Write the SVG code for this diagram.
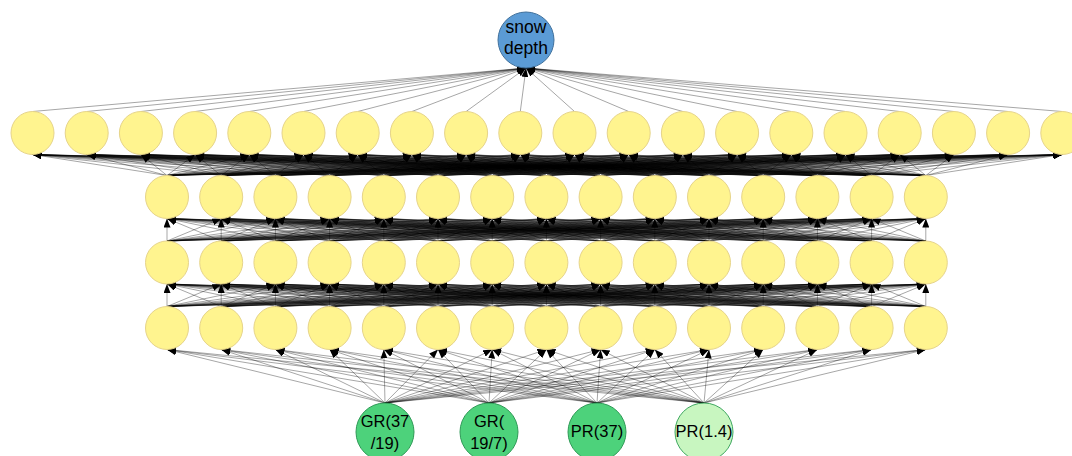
<svg xmlns="http://www.w3.org/2000/svg" xmlns:xlink="http://www.w3.org/1999/xlink" width="1072" height="456" viewBox="0 0 1072 456">
<style>
.edges path{fill:none;stroke:#000;stroke-opacity:.7;stroke-width:.5;marker-end:url(#ah)}
.y{fill:#FFF48F;stroke:#E6D48A;stroke-width:1}
.b{fill:#5B9BD5;stroke:#41719C;stroke-width:1}
.g{fill:#4DD27B;stroke:#2E9A56;stroke-width:1}
.lg{fill:#C8F6C0;stroke:#3FA860;stroke-width:1}
text{font-family:"Liberation Sans",Arial,sans-serif;fill:#000;text-anchor:middle}
.t1{font-size:17.5px}
.t2{font-size:16.5px}
</style>
<defs>
<marker id="ah" markerUnits="userSpaceOnUse" markerWidth="9" markerHeight="7" refX="9" refY="3.5" orient="auto"><path d="M0,0L9,3.5L0,7z" fill="#000"/></marker>
</defs>
<rect width="1072" height="456" fill="#fff"/>
<g id="connectors" class="edges">
<g id="e_l1_out">
<path d="M32.5 111.5L526 68"/><path d="M86.7 111.5L526 68"/><path d="M140.9 111.5L526 68"/><path d="M195.1 111.5L526 68"/><path d="M249.3 111.5L526 68"/><path d="M303.5 111.5L526 68"/><path d="M357.7 111.5L526 68"/><path d="M411.9 111.5L526 68"/><path d="M466.1 111.5L526 68"/><path d="M520.3 111.5L526 68"/><path d="M574.5 111.5L526 68"/><path d="M628.7 111.5L526 68"/><path d="M682.9 111.5L526 68"/><path d="M737.1 111.5L526 68"/><path d="M791.3 111.5L526 68"/><path d="M845.5 111.5L526 68"/><path d="M899.7 111.5L526 68"/><path d="M953.9 111.5L526 68"/><path d="M1008.1 111.5L526 68"/><path d="M1062.3 111.5L526 68"/>
</g>
<g id="e_l2_l1">
<path d="M167 175.5L32.5 154.5"/><path d="M167 175.5L86.7 154.5"/><path d="M167 175.5L140.9 154.5"/><path d="M167 175.5L195.1 154.5"/><path d="M167 175.5L249.3 154.5"/><path d="M167 175.5L303.5 154.5"/><path d="M167 175.5L357.7 154.5"/><path d="M167 175.5L411.9 154.5"/><path d="M167 175.5L466.1 154.5"/><path d="M167 175.5L520.3 154.5"/><path d="M167 175.5L574.5 154.5"/><path d="M167 175.5L628.7 154.5"/><path d="M167 175.5L682.9 154.5"/><path d="M167 175.5L737.1 154.5"/><path d="M167 175.5L791.3 154.5"/><path d="M167 175.5L845.5 154.5"/><path d="M167 175.5L899.7 154.5"/><path d="M167 175.5L953.9 154.5"/><path d="M167 175.5L1008.1 154.5"/><path d="M167 175.5L1062.3 154.5"/>
<path d="M221.2 175.5L32.5 154.5"/><path d="M221.2 175.5L86.7 154.5"/><path d="M221.2 175.5L140.9 154.5"/><path d="M221.2 175.5L195.1 154.5"/><path d="M221.2 175.5L249.3 154.5"/><path d="M221.2 175.5L303.5 154.5"/><path d="M221.2 175.5L357.7 154.5"/><path d="M221.2 175.5L411.9 154.5"/><path d="M221.2 175.5L466.1 154.5"/><path d="M221.2 175.5L520.3 154.5"/><path d="M221.2 175.5L574.5 154.5"/><path d="M221.2 175.5L628.7 154.5"/><path d="M221.2 175.5L682.9 154.5"/><path d="M221.2 175.5L737.1 154.5"/><path d="M221.2 175.5L791.3 154.5"/><path d="M221.2 175.5L845.5 154.5"/><path d="M221.2 175.5L899.7 154.5"/><path d="M221.2 175.5L953.9 154.5"/><path d="M221.2 175.5L1008.1 154.5"/><path d="M221.2 175.5L1062.3 154.5"/>
<path d="M275.4 175.5L32.5 154.5"/><path d="M275.4 175.5L86.7 154.5"/><path d="M275.4 175.5L140.9 154.5"/><path d="M275.4 175.5L195.1 154.5"/><path d="M275.4 175.5L249.3 154.5"/><path d="M275.4 175.5L303.5 154.5"/><path d="M275.4 175.5L357.7 154.5"/><path d="M275.4 175.5L411.9 154.5"/><path d="M275.4 175.5L466.1 154.5"/><path d="M275.4 175.5L520.3 154.5"/><path d="M275.4 175.5L574.5 154.5"/><path d="M275.4 175.5L628.7 154.5"/><path d="M275.4 175.5L682.9 154.5"/><path d="M275.4 175.5L737.1 154.5"/><path d="M275.4 175.5L791.3 154.5"/><path d="M275.4 175.5L845.5 154.5"/><path d="M275.4 175.5L899.7 154.5"/><path d="M275.4 175.5L953.9 154.5"/><path d="M275.4 175.5L1008.1 154.5"/><path d="M275.4 175.5L1062.3 154.5"/>
<path d="M329.6 175.5L32.5 154.5"/><path d="M329.6 175.5L86.7 154.5"/><path d="M329.6 175.5L140.9 154.5"/><path d="M329.6 175.5L195.1 154.5"/><path d="M329.6 175.5L249.3 154.5"/><path d="M329.6 175.5L303.5 154.5"/><path d="M329.6 175.5L357.7 154.5"/><path d="M329.6 175.5L411.9 154.5"/><path d="M329.6 175.5L466.1 154.5"/><path d="M329.6 175.5L520.3 154.5"/><path d="M329.6 175.5L574.5 154.5"/><path d="M329.6 175.5L628.7 154.5"/><path d="M329.6 175.5L682.9 154.5"/><path d="M329.6 175.5L737.1 154.5"/><path d="M329.6 175.5L791.3 154.5"/><path d="M329.6 175.5L845.5 154.5"/><path d="M329.6 175.5L899.7 154.5"/><path d="M329.6 175.5L953.9 154.5"/><path d="M329.6 175.5L1008.1 154.5"/><path d="M329.6 175.5L1062.3 154.5"/>
<path d="M383.8 175.5L32.5 154.5"/><path d="M383.8 175.5L86.7 154.5"/><path d="M383.8 175.5L140.9 154.5"/><path d="M383.8 175.5L195.1 154.5"/><path d="M383.8 175.5L249.3 154.5"/><path d="M383.8 175.5L303.5 154.5"/><path d="M383.8 175.5L357.7 154.5"/><path d="M383.8 175.5L411.9 154.5"/><path d="M383.8 175.5L466.1 154.5"/><path d="M383.8 175.5L520.3 154.5"/><path d="M383.8 175.5L574.5 154.5"/><path d="M383.8 175.5L628.7 154.5"/><path d="M383.8 175.5L682.9 154.5"/><path d="M383.8 175.5L737.1 154.5"/><path d="M383.8 175.5L791.3 154.5"/><path d="M383.8 175.5L845.5 154.5"/><path d="M383.8 175.5L899.7 154.5"/><path d="M383.8 175.5L953.9 154.5"/><path d="M383.8 175.5L1008.1 154.5"/><path d="M383.8 175.5L1062.3 154.5"/>
<path d="M438 175.5L32.5 154.5"/><path d="M438 175.5L86.7 154.5"/><path d="M438 175.5L140.9 154.5"/><path d="M438 175.5L195.1 154.5"/><path d="M438 175.5L249.3 154.5"/><path d="M438 175.5L303.5 154.5"/><path d="M438 175.5L357.7 154.5"/><path d="M438 175.5L411.9 154.5"/><path d="M438 175.5L466.1 154.5"/><path d="M438 175.5L520.3 154.5"/><path d="M438 175.5L574.5 154.5"/><path d="M438 175.5L628.7 154.5"/><path d="M438 175.5L682.9 154.5"/><path d="M438 175.5L737.1 154.5"/><path d="M438 175.5L791.3 154.5"/><path d="M438 175.5L845.5 154.5"/><path d="M438 175.5L899.7 154.5"/><path d="M438 175.5L953.9 154.5"/><path d="M438 175.5L1008.1 154.5"/><path d="M438 175.5L1062.3 154.5"/>
<path d="M492.2 175.5L32.5 154.5"/><path d="M492.2 175.5L86.7 154.5"/><path d="M492.2 175.5L140.9 154.5"/><path d="M492.2 175.5L195.1 154.5"/><path d="M492.2 175.5L249.3 154.5"/><path d="M492.2 175.5L303.5 154.5"/><path d="M492.2 175.5L357.7 154.5"/><path d="M492.2 175.5L411.9 154.5"/><path d="M492.2 175.5L466.1 154.5"/><path d="M492.2 175.5L520.3 154.5"/><path d="M492.2 175.5L574.5 154.5"/><path d="M492.2 175.5L628.7 154.5"/><path d="M492.2 175.5L682.9 154.5"/><path d="M492.2 175.5L737.1 154.5"/><path d="M492.2 175.5L791.3 154.5"/><path d="M492.2 175.5L845.5 154.5"/><path d="M492.2 175.5L899.7 154.5"/><path d="M492.2 175.5L953.9 154.5"/><path d="M492.2 175.5L1008.1 154.5"/><path d="M492.2 175.5L1062.3 154.5"/>
<path d="M546.4 175.5L32.5 154.5"/><path d="M546.4 175.5L86.7 154.5"/><path d="M546.4 175.5L140.9 154.5"/><path d="M546.4 175.5L195.1 154.5"/><path d="M546.4 175.5L249.3 154.5"/><path d="M546.4 175.5L303.5 154.5"/><path d="M546.4 175.5L357.7 154.5"/><path d="M546.4 175.5L411.9 154.5"/><path d="M546.4 175.5L466.1 154.5"/><path d="M546.4 175.5L520.3 154.5"/><path d="M546.4 175.5L574.5 154.5"/><path d="M546.4 175.5L628.7 154.5"/><path d="M546.4 175.5L682.9 154.5"/><path d="M546.4 175.5L737.1 154.5"/><path d="M546.4 175.5L791.3 154.5"/><path d="M546.4 175.5L845.5 154.5"/><path d="M546.4 175.5L899.7 154.5"/><path d="M546.4 175.5L953.9 154.5"/><path d="M546.4 175.5L1008.1 154.5"/><path d="M546.4 175.5L1062.3 154.5"/>
<path d="M600.6 175.5L32.5 154.5"/><path d="M600.6 175.5L86.7 154.5"/><path d="M600.6 175.5L140.9 154.5"/><path d="M600.6 175.5L195.1 154.5"/><path d="M600.6 175.5L249.3 154.5"/><path d="M600.6 175.5L303.5 154.5"/><path d="M600.6 175.5L357.7 154.5"/><path d="M600.6 175.5L411.9 154.5"/><path d="M600.6 175.5L466.1 154.5"/><path d="M600.6 175.5L520.3 154.5"/><path d="M600.6 175.5L574.5 154.5"/><path d="M600.6 175.5L628.7 154.5"/><path d="M600.6 175.5L682.9 154.5"/><path d="M600.6 175.5L737.1 154.5"/><path d="M600.6 175.5L791.3 154.5"/><path d="M600.6 175.5L845.5 154.5"/><path d="M600.6 175.5L899.7 154.5"/><path d="M600.6 175.5L953.9 154.5"/><path d="M600.6 175.5L1008.1 154.5"/><path d="M600.6 175.5L1062.3 154.5"/>
<path d="M654.8 175.5L32.5 154.5"/><path d="M654.8 175.5L86.7 154.5"/><path d="M654.8 175.5L140.9 154.5"/><path d="M654.8 175.5L195.1 154.5"/><path d="M654.8 175.5L249.3 154.5"/><path d="M654.8 175.5L303.5 154.5"/><path d="M654.8 175.5L357.7 154.5"/><path d="M654.8 175.5L411.9 154.5"/><path d="M654.8 175.5L466.1 154.5"/><path d="M654.8 175.5L520.3 154.5"/><path d="M654.8 175.5L574.5 154.5"/><path d="M654.8 175.5L628.7 154.5"/><path d="M654.8 175.5L682.9 154.5"/><path d="M654.8 175.5L737.1 154.5"/><path d="M654.8 175.5L791.3 154.5"/><path d="M654.8 175.5L845.5 154.5"/><path d="M654.8 175.5L899.7 154.5"/><path d="M654.8 175.5L953.9 154.5"/><path d="M654.8 175.5L1008.1 154.5"/><path d="M654.8 175.5L1062.3 154.5"/>
<path d="M709 175.5L32.5 154.5"/><path d="M709 175.5L86.7 154.5"/><path d="M709 175.5L140.9 154.5"/><path d="M709 175.5L195.1 154.5"/><path d="M709 175.5L249.3 154.5"/><path d="M709 175.5L303.5 154.5"/><path d="M709 175.5L357.7 154.5"/><path d="M709 175.5L411.9 154.5"/><path d="M709 175.5L466.1 154.5"/><path d="M709 175.5L520.3 154.5"/><path d="M709 175.5L574.5 154.5"/><path d="M709 175.5L628.7 154.5"/><path d="M709 175.5L682.9 154.5"/><path d="M709 175.5L737.1 154.5"/><path d="M709 175.5L791.3 154.5"/><path d="M709 175.5L845.5 154.5"/><path d="M709 175.5L899.7 154.5"/><path d="M709 175.5L953.9 154.5"/><path d="M709 175.5L1008.1 154.5"/><path d="M709 175.5L1062.3 154.5"/>
<path d="M763.2 175.5L32.5 154.5"/><path d="M763.2 175.5L86.7 154.5"/><path d="M763.2 175.5L140.9 154.5"/><path d="M763.2 175.5L195.1 154.5"/><path d="M763.2 175.5L249.3 154.5"/><path d="M763.2 175.5L303.5 154.5"/><path d="M763.2 175.5L357.7 154.5"/><path d="M763.2 175.5L411.9 154.5"/><path d="M763.2 175.5L466.1 154.5"/><path d="M763.2 175.5L520.3 154.5"/><path d="M763.2 175.5L574.5 154.5"/><path d="M763.2 175.5L628.7 154.5"/><path d="M763.2 175.5L682.9 154.5"/><path d="M763.2 175.5L737.1 154.5"/><path d="M763.2 175.5L791.3 154.5"/><path d="M763.2 175.5L845.5 154.5"/><path d="M763.2 175.5L899.7 154.5"/><path d="M763.2 175.5L953.9 154.5"/><path d="M763.2 175.5L1008.1 154.5"/><path d="M763.2 175.5L1062.3 154.5"/>
<path d="M817.4 175.5L32.5 154.5"/><path d="M817.4 175.5L86.7 154.5"/><path d="M817.4 175.5L140.9 154.5"/><path d="M817.4 175.5L195.1 154.5"/><path d="M817.4 175.5L249.3 154.5"/><path d="M817.4 175.5L303.5 154.5"/><path d="M817.4 175.5L357.7 154.5"/><path d="M817.4 175.5L411.9 154.5"/><path d="M817.4 175.5L466.1 154.5"/><path d="M817.4 175.5L520.3 154.5"/><path d="M817.4 175.5L574.5 154.5"/><path d="M817.4 175.5L628.7 154.5"/><path d="M817.4 175.5L682.9 154.5"/><path d="M817.4 175.5L737.1 154.5"/><path d="M817.4 175.5L791.3 154.5"/><path d="M817.4 175.5L845.5 154.5"/><path d="M817.4 175.5L899.7 154.5"/><path d="M817.4 175.5L953.9 154.5"/><path d="M817.4 175.5L1008.1 154.5"/><path d="M817.4 175.5L1062.3 154.5"/>
<path d="M871.6 175.5L32.5 154.5"/><path d="M871.6 175.5L86.7 154.5"/><path d="M871.6 175.5L140.9 154.5"/><path d="M871.6 175.5L195.1 154.5"/><path d="M871.6 175.5L249.3 154.5"/><path d="M871.6 175.5L303.5 154.5"/><path d="M871.6 175.5L357.7 154.5"/><path d="M871.6 175.5L411.9 154.5"/><path d="M871.6 175.5L466.1 154.5"/><path d="M871.6 175.5L520.3 154.5"/><path d="M871.6 175.5L574.5 154.5"/><path d="M871.6 175.5L628.7 154.5"/><path d="M871.6 175.5L682.9 154.5"/><path d="M871.6 175.5L737.1 154.5"/><path d="M871.6 175.5L791.3 154.5"/><path d="M871.6 175.5L845.5 154.5"/><path d="M871.6 175.5L899.7 154.5"/><path d="M871.6 175.5L953.9 154.5"/><path d="M871.6 175.5L1008.1 154.5"/><path d="M871.6 175.5L1062.3 154.5"/>
<path d="M925.8 175.5L32.5 154.5"/><path d="M925.8 175.5L86.7 154.5"/><path d="M925.8 175.5L140.9 154.5"/><path d="M925.8 175.5L195.1 154.5"/><path d="M925.8 175.5L249.3 154.5"/><path d="M925.8 175.5L303.5 154.5"/><path d="M925.8 175.5L357.7 154.5"/><path d="M925.8 175.5L411.9 154.5"/><path d="M925.8 175.5L466.1 154.5"/><path d="M925.8 175.5L520.3 154.5"/><path d="M925.8 175.5L574.5 154.5"/><path d="M925.8 175.5L628.7 154.5"/><path d="M925.8 175.5L682.9 154.5"/><path d="M925.8 175.5L737.1 154.5"/><path d="M925.8 175.5L791.3 154.5"/><path d="M925.8 175.5L845.5 154.5"/><path d="M925.8 175.5L899.7 154.5"/><path d="M925.8 175.5L953.9 154.5"/><path d="M925.8 175.5L1008.1 154.5"/><path d="M925.8 175.5L1062.3 154.5"/>
</g>
<g id="e_l3_l2">
<path d="M167 241L167 218.5"/><path d="M167 241L221.2 218.5"/><path d="M167 241L275.4 218.5"/><path d="M167 241L329.6 218.5"/><path d="M167 241L383.8 218.5"/><path d="M167 241L438 218.5"/><path d="M167 241L492.2 218.5"/><path d="M167 241L546.4 218.5"/><path d="M167 241L600.6 218.5"/><path d="M167 241L654.8 218.5"/><path d="M167 241L709 218.5"/><path d="M167 241L763.2 218.5"/><path d="M167 241L817.4 218.5"/><path d="M167 241L871.6 218.5"/><path d="M167 241L925.8 218.5"/>
<path d="M221.2 241L167 218.5"/><path d="M221.2 241L221.2 218.5"/><path d="M221.2 241L275.4 218.5"/><path d="M221.2 241L329.6 218.5"/><path d="M221.2 241L383.8 218.5"/><path d="M221.2 241L438 218.5"/><path d="M221.2 241L492.2 218.5"/><path d="M221.2 241L546.4 218.5"/><path d="M221.2 241L600.6 218.5"/><path d="M221.2 241L654.8 218.5"/><path d="M221.2 241L709 218.5"/><path d="M221.2 241L763.2 218.5"/><path d="M221.2 241L817.4 218.5"/><path d="M221.2 241L871.6 218.5"/><path d="M221.2 241L925.8 218.5"/>
<path d="M275.4 241L167 218.5"/><path d="M275.4 241L221.2 218.5"/><path d="M275.4 241L275.4 218.5"/><path d="M275.4 241L329.6 218.5"/><path d="M275.4 241L383.8 218.5"/><path d="M275.4 241L438 218.5"/><path d="M275.4 241L492.2 218.5"/><path d="M275.4 241L546.4 218.5"/><path d="M275.4 241L600.6 218.5"/><path d="M275.4 241L654.8 218.5"/><path d="M275.4 241L709 218.5"/><path d="M275.4 241L763.2 218.5"/><path d="M275.4 241L817.4 218.5"/><path d="M275.4 241L871.6 218.5"/><path d="M275.4 241L925.8 218.5"/>
<path d="M329.6 241L167 218.5"/><path d="M329.6 241L221.2 218.5"/><path d="M329.6 241L275.4 218.5"/><path d="M329.6 241L329.6 218.5"/><path d="M329.6 241L383.8 218.5"/><path d="M329.6 241L438 218.5"/><path d="M329.6 241L492.2 218.5"/><path d="M329.6 241L546.4 218.5"/><path d="M329.6 241L600.6 218.5"/><path d="M329.6 241L654.8 218.5"/><path d="M329.6 241L709 218.5"/><path d="M329.6 241L763.2 218.5"/><path d="M329.6 241L817.4 218.5"/><path d="M329.6 241L871.6 218.5"/><path d="M329.6 241L925.8 218.5"/>
<path d="M383.8 241L167 218.5"/><path d="M383.8 241L221.2 218.5"/><path d="M383.8 241L275.4 218.5"/><path d="M383.8 241L329.6 218.5"/><path d="M383.8 241L383.8 218.5"/><path d="M383.8 241L438 218.5"/><path d="M383.8 241L492.2 218.5"/><path d="M383.8 241L546.4 218.5"/><path d="M383.8 241L600.6 218.5"/><path d="M383.8 241L654.8 218.5"/><path d="M383.8 241L709 218.5"/><path d="M383.8 241L763.2 218.5"/><path d="M383.8 241L817.4 218.5"/><path d="M383.8 241L871.6 218.5"/><path d="M383.8 241L925.8 218.5"/>
<path d="M438 241L167 218.5"/><path d="M438 241L221.2 218.5"/><path d="M438 241L275.4 218.5"/><path d="M438 241L329.6 218.5"/><path d="M438 241L383.8 218.5"/><path d="M438 241L438 218.5"/><path d="M438 241L492.2 218.5"/><path d="M438 241L546.4 218.5"/><path d="M438 241L600.6 218.5"/><path d="M438 241L654.8 218.5"/><path d="M438 241L709 218.5"/><path d="M438 241L763.2 218.5"/><path d="M438 241L817.4 218.5"/><path d="M438 241L871.6 218.5"/><path d="M438 241L925.8 218.5"/>
<path d="M492.2 241L167 218.5"/><path d="M492.2 241L221.2 218.5"/><path d="M492.2 241L275.4 218.5"/><path d="M492.2 241L329.6 218.5"/><path d="M492.2 241L383.8 218.5"/><path d="M492.2 241L438 218.5"/><path d="M492.2 241L492.2 218.5"/><path d="M492.2 241L546.4 218.5"/><path d="M492.2 241L600.6 218.5"/><path d="M492.2 241L654.8 218.5"/><path d="M492.2 241L709 218.5"/><path d="M492.2 241L763.2 218.5"/><path d="M492.2 241L817.4 218.5"/><path d="M492.2 241L871.6 218.5"/><path d="M492.2 241L925.8 218.5"/>
<path d="M546.4 241L167 218.5"/><path d="M546.4 241L221.2 218.5"/><path d="M546.4 241L275.4 218.5"/><path d="M546.4 241L329.6 218.5"/><path d="M546.4 241L383.8 218.5"/><path d="M546.4 241L438 218.5"/><path d="M546.4 241L492.2 218.5"/><path d="M546.4 241L546.4 218.5"/><path d="M546.4 241L600.6 218.5"/><path d="M546.4 241L654.8 218.5"/><path d="M546.4 241L709 218.5"/><path d="M546.4 241L763.2 218.5"/><path d="M546.4 241L817.4 218.5"/><path d="M546.4 241L871.6 218.5"/><path d="M546.4 241L925.8 218.5"/>
<path d="M600.6 241L167 218.5"/><path d="M600.6 241L221.2 218.5"/><path d="M600.6 241L275.4 218.5"/><path d="M600.6 241L329.6 218.5"/><path d="M600.6 241L383.8 218.5"/><path d="M600.6 241L438 218.5"/><path d="M600.6 241L492.2 218.5"/><path d="M600.6 241L546.4 218.5"/><path d="M600.6 241L600.6 218.5"/><path d="M600.6 241L654.8 218.5"/><path d="M600.6 241L709 218.5"/><path d="M600.6 241L763.2 218.5"/><path d="M600.6 241L817.4 218.5"/><path d="M600.6 241L871.6 218.5"/><path d="M600.6 241L925.8 218.5"/>
<path d="M654.8 241L167 218.5"/><path d="M654.8 241L221.2 218.5"/><path d="M654.8 241L275.4 218.5"/><path d="M654.8 241L329.6 218.5"/><path d="M654.8 241L383.8 218.5"/><path d="M654.8 241L438 218.5"/><path d="M654.8 241L492.2 218.5"/><path d="M654.8 241L546.4 218.5"/><path d="M654.8 241L600.6 218.5"/><path d="M654.8 241L654.8 218.5"/><path d="M654.8 241L709 218.5"/><path d="M654.8 241L763.2 218.5"/><path d="M654.8 241L817.4 218.5"/><path d="M654.8 241L871.6 218.5"/><path d="M654.8 241L925.8 218.5"/>
<path d="M709 241L167 218.5"/><path d="M709 241L221.2 218.5"/><path d="M709 241L275.4 218.5"/><path d="M709 241L329.6 218.5"/><path d="M709 241L383.8 218.5"/><path d="M709 241L438 218.5"/><path d="M709 241L492.2 218.5"/><path d="M709 241L546.4 218.5"/><path d="M709 241L600.6 218.5"/><path d="M709 241L654.8 218.5"/><path d="M709 241L709 218.5"/><path d="M709 241L763.2 218.5"/><path d="M709 241L817.4 218.5"/><path d="M709 241L871.6 218.5"/><path d="M709 241L925.8 218.5"/>
<path d="M763.2 241L167 218.5"/><path d="M763.2 241L221.2 218.5"/><path d="M763.2 241L275.4 218.5"/><path d="M763.2 241L329.6 218.5"/><path d="M763.2 241L383.8 218.5"/><path d="M763.2 241L438 218.5"/><path d="M763.2 241L492.2 218.5"/><path d="M763.2 241L546.4 218.5"/><path d="M763.2 241L600.6 218.5"/><path d="M763.2 241L654.8 218.5"/><path d="M763.2 241L709 218.5"/><path d="M763.2 241L763.2 218.5"/><path d="M763.2 241L817.4 218.5"/><path d="M763.2 241L871.6 218.5"/><path d="M763.2 241L925.8 218.5"/>
<path d="M817.4 241L167 218.5"/><path d="M817.4 241L221.2 218.5"/><path d="M817.4 241L275.4 218.5"/><path d="M817.4 241L329.6 218.5"/><path d="M817.4 241L383.8 218.5"/><path d="M817.4 241L438 218.5"/><path d="M817.4 241L492.2 218.5"/><path d="M817.4 241L546.4 218.5"/><path d="M817.4 241L600.6 218.5"/><path d="M817.4 241L654.8 218.5"/><path d="M817.4 241L709 218.5"/><path d="M817.4 241L763.2 218.5"/><path d="M817.4 241L817.4 218.5"/><path d="M817.4 241L871.6 218.5"/><path d="M817.4 241L925.8 218.5"/>
<path d="M871.6 241L167 218.5"/><path d="M871.6 241L221.2 218.5"/><path d="M871.6 241L275.4 218.5"/><path d="M871.6 241L329.6 218.5"/><path d="M871.6 241L383.8 218.5"/><path d="M871.6 241L438 218.5"/><path d="M871.6 241L492.2 218.5"/><path d="M871.6 241L546.4 218.5"/><path d="M871.6 241L600.6 218.5"/><path d="M871.6 241L654.8 218.5"/><path d="M871.6 241L709 218.5"/><path d="M871.6 241L763.2 218.5"/><path d="M871.6 241L817.4 218.5"/><path d="M871.6 241L871.6 218.5"/><path d="M871.6 241L925.8 218.5"/>
<path d="M925.8 241L167 218.5"/><path d="M925.8 241L221.2 218.5"/><path d="M925.8 241L275.4 218.5"/><path d="M925.8 241L329.6 218.5"/><path d="M925.8 241L383.8 218.5"/><path d="M925.8 241L438 218.5"/><path d="M925.8 241L492.2 218.5"/><path d="M925.8 241L546.4 218.5"/><path d="M925.8 241L600.6 218.5"/><path d="M925.8 241L654.8 218.5"/><path d="M925.8 241L709 218.5"/><path d="M925.8 241L763.2 218.5"/><path d="M925.8 241L817.4 218.5"/><path d="M925.8 241L871.6 218.5"/><path d="M925.8 241L925.8 218.5"/>
</g>
<use id="e_l4_l3" xlink:href="#e_l3_l2" href="#e_l3_l2" transform="translate(0 65.5)"/>
<g id="e_in_l4">
<path d="M385 403L167 349.5"/><path d="M385 403L221.2 349.5"/><path d="M385 403L275.4 349.5"/><path d="M385 403L329.6 349.5"/><path d="M385 403L383.8 349.5"/><path d="M385 403L438 349.5"/><path d="M385 403L492.2 349.5"/><path d="M385 403L546.4 349.5"/><path d="M385 403L600.6 349.5"/><path d="M385 403L654.8 349.5"/><path d="M385 403L709 349.5"/><path d="M385 403L763.2 349.5"/><path d="M385 403L817.4 349.5"/><path d="M385 403L871.6 349.5"/><path d="M385 403L925.8 349.5"/>
<path d="M489 403L167 349.5"/><path d="M489 403L221.2 349.5"/><path d="M489 403L275.4 349.5"/><path d="M489 403L329.6 349.5"/><path d="M489 403L383.8 349.5"/><path d="M489 403L438 349.5"/><path d="M489 403L492.2 349.5"/><path d="M489 403L546.4 349.5"/><path d="M489 403L600.6 349.5"/><path d="M489 403L654.8 349.5"/><path d="M489 403L709 349.5"/><path d="M489 403L763.2 349.5"/><path d="M489 403L817.4 349.5"/><path d="M489 403L871.6 349.5"/><path d="M489 403L925.8 349.5"/>
<path d="M597 403L167 349.5"/><path d="M597 403L221.2 349.5"/><path d="M597 403L275.4 349.5"/><path d="M597 403L329.6 349.5"/><path d="M597 403L383.8 349.5"/><path d="M597 403L438 349.5"/><path d="M597 403L492.2 349.5"/><path d="M597 403L546.4 349.5"/><path d="M597 403L600.6 349.5"/><path d="M597 403L654.8 349.5"/><path d="M597 403L709 349.5"/><path d="M597 403L763.2 349.5"/><path d="M597 403L817.4 349.5"/><path d="M597 403L871.6 349.5"/><path d="M597 403L925.8 349.5"/>
<path d="M704 403L167 349.5"/><path d="M704 403L221.2 349.5"/><path d="M704 403L275.4 349.5"/><path d="M704 403L329.6 349.5"/><path d="M704 403L383.8 349.5"/><path d="M704 403L438 349.5"/><path d="M704 403L492.2 349.5"/><path d="M704 403L546.4 349.5"/><path d="M704 403L600.6 349.5"/><path d="M704 403L654.8 349.5"/><path d="M704 403L709 349.5"/><path d="M704 403L763.2 349.5"/><path d="M704 403L817.4 349.5"/><path d="M704 403L871.6 349.5"/><path d="M704 403L925.8 349.5"/>
</g>
</g>
<g id="out_snow_depth"><circle class="b" cx="526" cy="40" r="28"/><text class="t1" x="526" y="33">snow</text><text class="t1" x="526" y="53.5">depth</text></g>
<g id="layer1">
<g id="h1_0"><circle class="y" cx="32.5" cy="133" r="21.5"/></g>
<g id="h1_1"><circle class="y" cx="86.7" cy="133" r="21.5"/></g>
<g id="h1_2"><circle class="y" cx="140.9" cy="133" r="21.5"/></g>
<g id="h1_3"><circle class="y" cx="195.1" cy="133" r="21.5"/></g>
<g id="h1_4"><circle class="y" cx="249.3" cy="133" r="21.5"/></g>
<g id="h1_5"><circle class="y" cx="303.5" cy="133" r="21.5"/></g>
<g id="h1_6"><circle class="y" cx="357.7" cy="133" r="21.5"/></g>
<g id="h1_7"><circle class="y" cx="411.9" cy="133" r="21.5"/></g>
<g id="h1_8"><circle class="y" cx="466.1" cy="133" r="21.5"/></g>
<g id="h1_9"><circle class="y" cx="520.3" cy="133" r="21.5"/></g>
<g id="h1_10"><circle class="y" cx="574.5" cy="133" r="21.5"/></g>
<g id="h1_11"><circle class="y" cx="628.7" cy="133" r="21.5"/></g>
<g id="h1_12"><circle class="y" cx="682.9" cy="133" r="21.5"/></g>
<g id="h1_13"><circle class="y" cx="737.1" cy="133" r="21.5"/></g>
<g id="h1_14"><circle class="y" cx="791.3" cy="133" r="21.5"/></g>
<g id="h1_15"><circle class="y" cx="845.5" cy="133" r="21.5"/></g>
<g id="h1_16"><circle class="y" cx="899.7" cy="133" r="21.5"/></g>
<g id="h1_17"><circle class="y" cx="953.9" cy="133" r="21.5"/></g>
<g id="h1_18"><circle class="y" cx="1008.1" cy="133" r="21.5"/></g>
<g id="h1_19"><circle class="y" cx="1062.3" cy="133" r="21.5"/></g>
</g>
<g id="layer2">
<g id="h2_0"><circle class="y" cx="167" cy="197" r="21.5"/></g>
<g id="h2_1"><circle class="y" cx="221.2" cy="197" r="21.5"/></g>
<g id="h2_2"><circle class="y" cx="275.4" cy="197" r="21.5"/></g>
<g id="h2_3"><circle class="y" cx="329.6" cy="197" r="21.5"/></g>
<g id="h2_4"><circle class="y" cx="383.8" cy="197" r="21.5"/></g>
<g id="h2_5"><circle class="y" cx="438" cy="197" r="21.5"/></g>
<g id="h2_6"><circle class="y" cx="492.2" cy="197" r="21.5"/></g>
<g id="h2_7"><circle class="y" cx="546.4" cy="197" r="21.5"/></g>
<g id="h2_8"><circle class="y" cx="600.6" cy="197" r="21.5"/></g>
<g id="h2_9"><circle class="y" cx="654.8" cy="197" r="21.5"/></g>
<g id="h2_10"><circle class="y" cx="709" cy="197" r="21.5"/></g>
<g id="h2_11"><circle class="y" cx="763.2" cy="197" r="21.5"/></g>
<g id="h2_12"><circle class="y" cx="817.4" cy="197" r="21.5"/></g>
<g id="h2_13"><circle class="y" cx="871.6" cy="197" r="21.5"/></g>
<g id="h2_14"><circle class="y" cx="925.8" cy="197" r="21.5"/></g>
</g>
<g id="layer3">
<g id="h3_0"><circle class="y" cx="167" cy="262.5" r="21.5"/></g>
<g id="h3_1"><circle class="y" cx="221.2" cy="262.5" r="21.5"/></g>
<g id="h3_2"><circle class="y" cx="275.4" cy="262.5" r="21.5"/></g>
<g id="h3_3"><circle class="y" cx="329.6" cy="262.5" r="21.5"/></g>
<g id="h3_4"><circle class="y" cx="383.8" cy="262.5" r="21.5"/></g>
<g id="h3_5"><circle class="y" cx="438" cy="262.5" r="21.5"/></g>
<g id="h3_6"><circle class="y" cx="492.2" cy="262.5" r="21.5"/></g>
<g id="h3_7"><circle class="y" cx="546.4" cy="262.5" r="21.5"/></g>
<g id="h3_8"><circle class="y" cx="600.6" cy="262.5" r="21.5"/></g>
<g id="h3_9"><circle class="y" cx="654.8" cy="262.5" r="21.5"/></g>
<g id="h3_10"><circle class="y" cx="709" cy="262.5" r="21.5"/></g>
<g id="h3_11"><circle class="y" cx="763.2" cy="262.5" r="21.5"/></g>
<g id="h3_12"><circle class="y" cx="817.4" cy="262.5" r="21.5"/></g>
<g id="h3_13"><circle class="y" cx="871.6" cy="262.5" r="21.5"/></g>
<g id="h3_14"><circle class="y" cx="925.8" cy="262.5" r="21.5"/></g>
</g>
<g id="layer4">
<g id="h4_0"><circle class="y" cx="167" cy="328" r="21.5"/></g>
<g id="h4_1"><circle class="y" cx="221.2" cy="328" r="21.5"/></g>
<g id="h4_2"><circle class="y" cx="275.4" cy="328" r="21.5"/></g>
<g id="h4_3"><circle class="y" cx="329.6" cy="328" r="21.5"/></g>
<g id="h4_4"><circle class="y" cx="383.8" cy="328" r="21.5"/></g>
<g id="h4_5"><circle class="y" cx="438" cy="328" r="21.5"/></g>
<g id="h4_6"><circle class="y" cx="492.2" cy="328" r="21.5"/></g>
<g id="h4_7"><circle class="y" cx="546.4" cy="328" r="21.5"/></g>
<g id="h4_8"><circle class="y" cx="600.6" cy="328" r="21.5"/></g>
<g id="h4_9"><circle class="y" cx="654.8" cy="328" r="21.5"/></g>
<g id="h4_10"><circle class="y" cx="709" cy="328" r="21.5"/></g>
<g id="h4_11"><circle class="y" cx="763.2" cy="328" r="21.5"/></g>
<g id="h4_12"><circle class="y" cx="817.4" cy="328" r="21.5"/></g>
<g id="h4_13"><circle class="y" cx="871.6" cy="328" r="21.5"/></g>
<g id="h4_14"><circle class="y" cx="925.8" cy="328" r="21.5"/></g>
</g>
<g id="in_gr_37_19"><circle class="g" cx="385" cy="432" r="29"/><text class="t2" x="385" y="427">GR(37</text><text class="t2" x="385" y="449">/19)</text></g>
<g id="in_gr_19_7"><circle class="g" cx="489" cy="432" r="29"/><text class="t2" x="489" y="427">GR(</text><text class="t2" x="489" y="449">19/7)</text></g>
<g id="in_pr_37"><circle class="g" cx="597" cy="432" r="29"/><text class="t2" x="597" y="437">PR(37)</text></g>
<g id="in_pr_1_4"><circle class="lg" cx="704" cy="432" r="29"/><text class="t2" x="704" y="437">PR(1.4)</text></g>
</svg>
